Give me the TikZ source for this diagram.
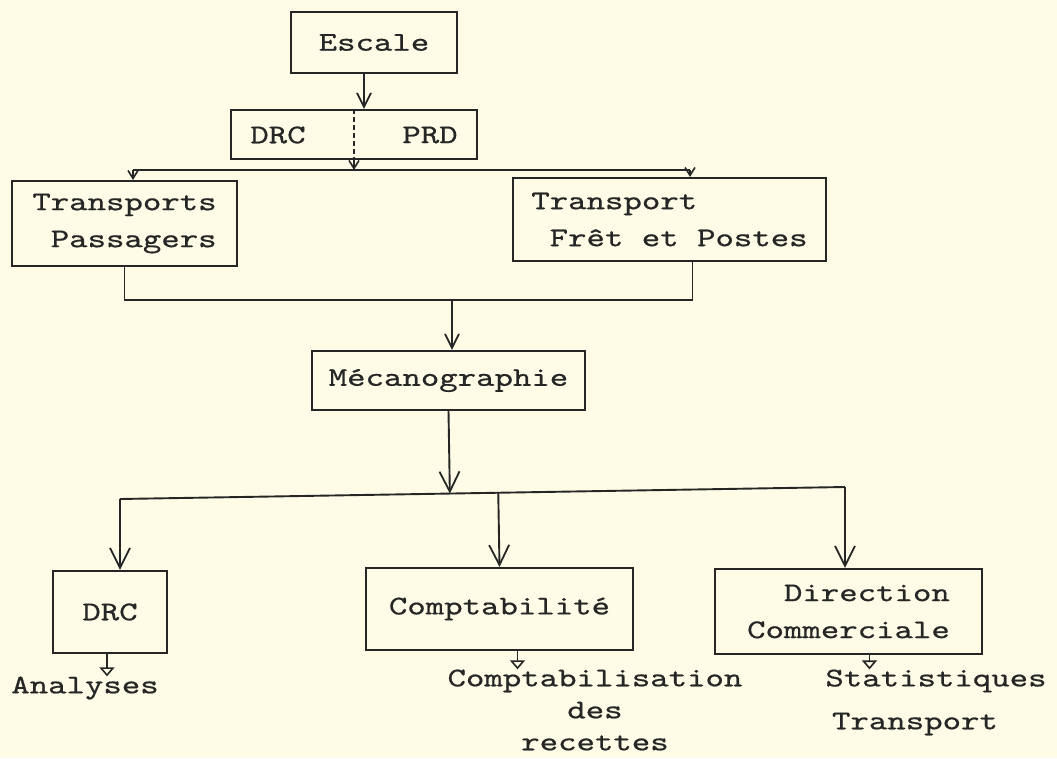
\documentclass[tikz,border=0pt]{standalone}
\usepackage{fontspec}
% typewriter face, widened to a pica pitch
\setmonofont{lmmono10-regular}[Extension=.otf, FakeStretch=1.3, FakeBold=0.6]
\usetikzlibrary{arrows.meta,calc}
\definecolor{paper}{HTML}{FEFCE6}
\definecolor{ink}{HTML}{262626}
\begin{document}
\begin{tikzpicture}[x=1pt,y=-1pt,
  every node/.style={font=\ttfamily\fontsize{27}{37}\selectfont, text=ink, inner sep=0pt},
  box/.style={draw=ink, line width=2.1pt, rectangle},
  link/.style={draw=ink, line width=1.9pt},
  bigv/.style={link, -{Straight Barb[length=20pt,width=20pt,line width=1.8pt]}},
  midv/.style={link, -{Straight Barb[length=14pt,width=14pt,line width=1.8pt]}},
  tinyv/.style={link, -{Straight Barb[length=8pt,width=10pt,line width=1.6pt]}},
  outv/.style={link, -{Triangle[open,length=9pt,width=15pt,fill=paper,line width=1.6pt]}},
]
\fill[paper] (0,0) rectangle (1057,758);
\useasboundingbox (0,0) rectangle (1057,758);

% top of the chain
\node[box, minimum width=166pt, minimum height=61pt] (escale) at (374,42.5) {Escale};
\node[box, minimum width=246pt, minimum height=49pt] (pair) at (354,134.5) {};
\node (drcA) at (278,135) {DRC};
\node (prd) at (430,135) {PRD};
\draw[link, line width=1.5pt, dash pattern=on 5pt off 3pt] (pair.north) -- (pair.south);
\draw[midv] ([xshift=-10pt]escale.south) -- ([xshift=10pt]pair.north);

% first distribution line
\coordinate (busL) at (133,170);
\coordinate (busR) at (690,170);
\draw[link] (busL) -- (busR);
\draw[tinyv] (pair.south) -- (pair.south |- busL);

\node[box, minimum width=225pt, minimum height=85pt, align=right] (pass) at (124.5,223.5) {Transports\\Passagers};
\node[box, minimum width=313pt, minimum height=83pt, align=left] (fret) at (669.5,219.5) {Transport\\\hspace*{0.68em}Frêt et Postes};
\draw[tinyv] (busL) -- (busL |- pass.north);
\draw[tinyv] (busR) -- (busR |- fret.north);

% merge into the punched-card unit
\coordinate (j2) at (452,300);
\draw[link] (pass.south) |- (j2);
\draw[link] ([xshift=23pt]fret.south) |- (j2);
\node[box, minimum width=273pt, minimum height=59pt] (meca) at (448.5,380.5) {Mécanographie};
\draw[midv] (j2) -- (j2 |- meca.north);

% second distribution line
\coordinate (b3L) at (120,499);
\coordinate (b3R) at (845,487);
\draw[link] (b3L) -- (b3R);
\draw[bigv] (meca.south) -- ($(b3L)!(meca.south)!(b3R)$);

\node[box, minimum width=114pt, minimum height=82pt] (drc) at (110,612) {DRC};
\node[box, minimum width=267pt, minimum height=82pt] (comp) at (499.5,609) {Comptabilité};
\node[box, minimum width=267pt, minimum height=85pt, align=right] (dir) at (848.5,611.5) {Direction\\Commerciale};

\draw[bigv] (b3L) -- (b3L |- drc.north);
\draw[bigv] ($(b3L)!(comp.north)!(b3R)$) -- (comp.north);
\draw[bigv] (b3R) -- (b3R |- dir.north);

% outputs
\node (ana) at (85,688) {Analyses};
\node[align=center, font=\ttfamily\fontsize{27}{32}\selectfont] (cpt) at (595,710) {Comptabilisation\\des\\recettes};
\node (stat) at (936,681) {Statistiques};
\node (trans) at (915,724) {Transport};

\draw[outv] ([xshift=-3pt]drc.south) -- ([xshift=-3pt]drc.south |- ana.north);
\draw[outv] ([xshift=18pt]comp.south) -- ([xshift=18pt]comp.south |- cpt.north);
\draw[outv] ([xshift=21pt]dir.south) -- ([xshift=21pt]dir.south |- stat.north);
\end{tikzpicture}
\end{document}
